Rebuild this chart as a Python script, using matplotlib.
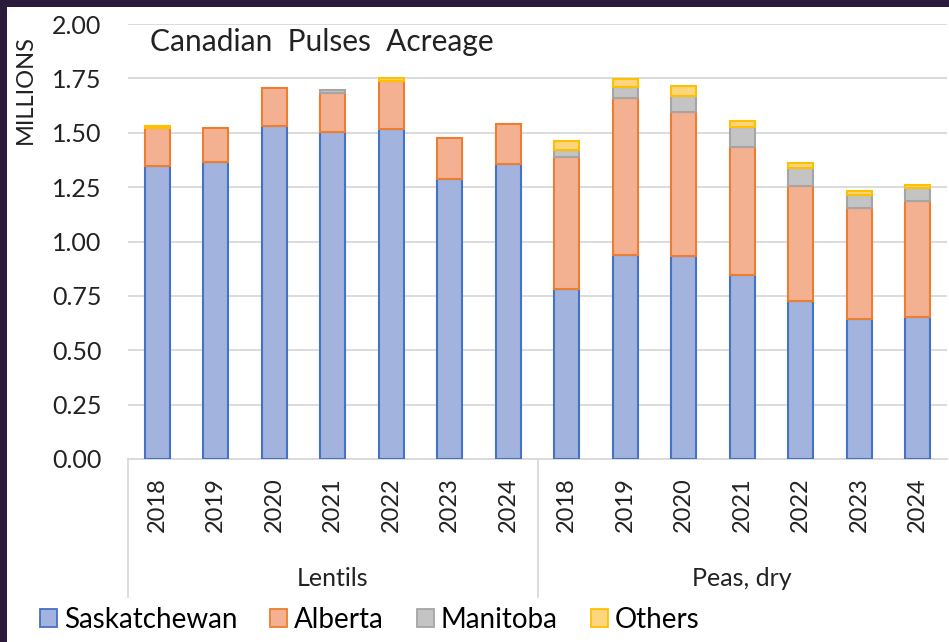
import numpy as np
import matplotlib.pyplot as plt
import matplotlib.transforms as mtransforms
from matplotlib.patches import Patch, Rectangle
from matplotlib.lines import Line2D

plt.rcParams['font.family'] = ['Lato', 'DejaVu Sans']

years = ['2018', '2019', '2020', '2021', '2022', '2023', '2024']
groups = ['Lentils', 'Peas, dry']
provinces = ['Saskatchewan', 'Alberta', 'Manitoba', 'Others']

# millions of acres, lentils then peas
sask = [1.345, 1.364, 1.531, 1.505, 1.517, 1.286, 1.355,
        0.780, 0.938, 0.933, 0.846, 0.728, 0.642, 0.654]
alberta = [0.175, 0.158, 0.173, 0.178, 0.221, 0.191, 0.185,
           0.607, 0.723, 0.664, 0.590, 0.529, 0.511, 0.531]
manitoba = [0.0, 0.0, 0.0, 0.014, 0.0, 0.0, 0.0,
            0.034, 0.048, 0.072, 0.089, 0.082, 0.061, 0.061]
others = [0.012, 0.0, 0.0, 0.0, 0.014, 0.0, 0.0,
          0.041, 0.038, 0.046, 0.029, 0.023, 0.018, 0.012]

fills = ['#a2b3de', '#f4b191', '#c4c4c4', '#ffd57e']
edges = ['#4472c4', '#ed7d31', '#a5a5a5', '#ffc000']

fig = plt.figure(figsize=(9.49, 6.42), dpi=100)
fig.patch.set_facecolor('white')
border = '#2b1a3b'
fig.add_artist(Rectangle((0, 0), 7/949, 1, transform=fig.transFigure,
                         facecolor=border, edgecolor='none'))
fig.add_artist(Rectangle((0, 1 - 7/642), 1, 7/642, transform=fig.transFigure,
                         facecolor=border, edgecolor='none'))

ax = fig.add_axes([128/949, 1 - 459/642, 819/949, 435/642])
ax.set_facecolor('white')

x = np.arange(len(sask))
bottom = np.zeros(len(sask))
for vals, fc, ec in zip([sask, alberta, manitoba, others], fills, edges):
    vals = np.array(vals)
    ecs = [ec if v > 0 else 'none' for v in vals]
    ax.bar(x, vals, 0.43, bottom=bottom, color=fc, edgecolor=ecs,
           linewidth=1.5, zorder=3)
    bottom += vals

ax.set_xlim(-0.5, 13.5)
ax.set_ylim(0, 2.0)
yt = np.arange(0, 2.01, 0.25)
ax.set_yticks(yt)
ax.set_yticklabels(['%.2f' % v for v in yt], fontsize=18)
ax.tick_params(axis='y', length=0, pad=19, colors='#222222')
ax.grid(axis='y', color='#d9d9d9', linewidth=1.3, zorder=0)
ax.set_axisbelow(True)

ax.set_xticks(x)
ax.set_xticklabels(years * 2, rotation=90, fontsize=17, va='top')
ax.tick_params(axis='x', length=0, pad=13, colors='#222222')

for s in ['top', 'right', 'left']:
    ax.spines[s].set_visible(False)
ax.spines['bottom'].set_color('#d9d9d9')
ax.spines['bottom'].set_linewidth(1.3)

# category separators under the axis
tr = ax.get_xaxis_transform()
for xs in [-0.5, 6.5]:
    ax.add_line(Line2D([xs, xs], [0, -138/435], transform=tr, color='#d9d9d9',
                       linewidth=1.3, clip_on=False))
for i, g in enumerate(groups):
    ax.text(3 + 7*i, -120/435, g, transform=tr, ha='center', va='center',
            fontsize=18, color='#222222')

ttr = mtransforms.blended_transform_factory(ax.transAxes, ax.transData)
ax.text(22/819, 1.915, 'Canadian  Pulses  Acreage', fontsize=21.5, color='#222222',
        ha='left', va='center', transform=ttr)

fig.text(25/949, 1 - 89/642, 'MILLIONS', rotation=90, fontsize=17,
         ha='center', va='center', color='#222222')

handles = [Patch(facecolor=f, edgecolor=e, linewidth=1.3) for f, e in zip(fills, edges)]
fig.legend(handles, provinces, loc='center left', bbox_to_anchor=(40/949, 1 - 620/642),
           ncol=4, frameon=False, fontsize=20, handlelength=0.6, handleheight=0.6,
           handletextpad=0.25, columnspacing=1.2, borderaxespad=0, borderpad=0)

fig.savefig('out.png', dpi=100, facecolor=fig.get_facecolor())
